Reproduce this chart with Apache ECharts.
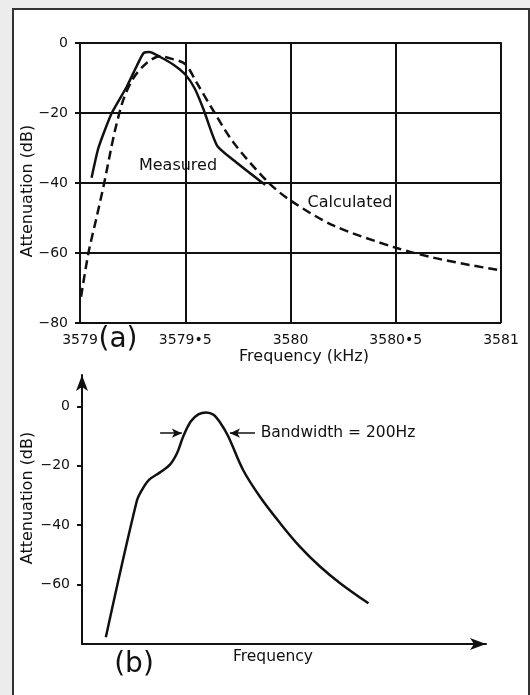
<!DOCTYPE html>
<html><head><meta charset="utf-8">
<script src="https://cdn.jsdelivr.net/npm/echarts@6/dist/echarts.min.js"></script>
<style>
html,body{margin:0;padding:0;background:#ececec;}
#frame{position:absolute;left:12px;top:8px;width:514px;height:700px;border:2px solid #333;background:#fff;}
#c{position:absolute;left:0;top:0;width:530px;height:695px;}
</style>
</head><body><div id="frame"></div><div id="c"></div>
<script>
// (a) measured and calculated response: [frequency kHz, attenuation dB]
const measuredA = [[3579.055,-38.5],[3579.085,-30.5],[3579.111,-26],[3579.151,-20],[3579.222,-12.5],[3579.27,-6.5],[3579.302,-2.9],[3579.33,-2.6],[3579.381,-4.0],[3579.444,-6.2],[3579.5,-9.0],[3579.545,-13],[3579.587,-19],[3579.651,-29.3],[3579.73,-33.5],[3579.857,-39.5],[3579.88,-40.5]];
const calculatedA = [[3579.005,-72.5],[3579.04,-60],[3579.078,-50],[3579.115,-40],[3579.145,-31],[3579.167,-24.8],[3579.206,-16.2],[3579.254,-10],[3579.317,-5.7],[3579.381,-3.8],[3579.44,-4.6],[3579.5,-6.0],[3579.555,-11.4],[3579.635,-19.5],[3579.73,-28.5],[3579.889,-39.5],[3580.0,-45],[3580.206,-52.2],[3580.5,-58.5],[3580.683,-61.4],[3580.85,-63.4],[3581.0,-65]];
const xTicksA = [3579, 3579.5, 3580, 3580.5, 3581];
const yTicksA = [0, -20, -40, -60, -80];
// (b) generic response: [relative frequency, attenuation dB]
const curveB = [[5.8,-77.7],[13.3,-32],[14.6,-28.1],[16.3,-24.7],[19.0,-22.2],[21.4,-19.6],[23.2,-15.5],[24.6,-10.2],[26.5,-5.0],[28.4,-2.6],[30.2,-2.0],[32.0,-2.8],[33.8,-5.8],[35.6,-10.1],[39.2,-21.4],[43.3,-30.4],[48.2,-39.3],[53.0,-47.2],[57.9,-53.9],[62.8,-59.5],[69.7,-66.3]];
const yTicksB = [0, -20, -40, -60];
const bandwidthLevel = -9;
const bandwidthArrows = [[19.0, 24.3], [42.1, 36.0]]; // [from, to] in relative frequency

const FONT = '"DejaVu Sans", sans-serif';
const INK = '#111';
const minus = v => v === 0 ? '0' : '\u2212' + Math.abs(v);

const chart = echarts.init(document.getElementById('c'), null, {renderer: 'canvas'});
chart.setOption({
  backgroundColor: 'transparent',
  animation: false,
  grid: [
    {left: 80, top: 43, width: 421, height: 280},
    {left: 82, top: 375, width: 404, height: 269}
  ],
  xAxis: [
    {gridIndex: 0, type: 'value', min: xTicksA[0], max: xTicksA[xTicksA.length-1], interval: 0.5,
     axisLine: {show: true, lineStyle: {color: INK, width: 2}},
     axisTick: {show: false},
     axisLabel: {color: INK, fontFamily: FONT, fontSize: 14, margin: 10,
       formatter: v => String(v).replace('.', '\u2022')},
     splitLine: {show: true, lineStyle: {color: INK, width: 2}}},
    {gridIndex: 1, type: 'value', min: 0, max: 98.3,
     axisLine: {show: true, onZero: false, lineStyle: {color: INK, width: 2}, symbol: ['none', 'arrow'], symbolSize: [9, 16]},
     axisTick: {show: false}, axisLabel: {show: false}, splitLine: {show: false}}
  ],
  yAxis: [
    {gridIndex: 0, type: 'value', min: yTicksA[yTicksA.length-1], max: yTicksA[0], interval: 20,
     axisLine: {show: true, lineStyle: {color: INK, width: 2}},
     axisTick: {show: true, length: 5, lineStyle: {color: INK, width: 2}},
     axisLabel: {color: INK, fontFamily: FONT, fontSize: 14, margin: 12, formatter: minus},
     splitLine: {show: true, lineStyle: {color: INK, width: 2}}},
    {gridIndex: 1, type: 'value', min: -80, max: 10.6, interval: 20,
     axisLine: {show: true, onZero: false, lineStyle: {color: INK, width: 2}, symbol: ['none', 'arrow'], symbolSize: [9, 16]},
     axisTick: {show: true, length: 5, customValues: yTicksB, lineStyle: {color: INK, width: 2}},
     axisLabel: {color: INK, fontFamily: FONT, fontSize: 14, margin: 12, customValues: yTicksB, formatter: minus},
     splitLine: {show: false}}
  ],
  series: [
    {name: 'Calculated', type: 'line', xAxisIndex: 0, yAxisIndex: 0, data: calculatedA, smooth: 0.3,
     symbol: 'none', lineStyle: {color: INK, width: 2.5, type: [9, 5]}, z: 3},
    {name: 'Measured', type: 'line', xAxisIndex: 0, yAxisIndex: 0, data: measuredA, smooth: 0.2,
     symbol: 'none', lineStyle: {color: INK, width: 2.5}, z: 4},
    {name: 'Response', type: 'line', xAxisIndex: 1, yAxisIndex: 1, data: curveB, smooth: 0.35,
     symbol: 'none', lineStyle: {color: INK, width: 2.5},
     markLine: {silent: true, symbol: ['none', 'arrow'], symbolSize: [7, 10], label: {show: false},
       lineStyle: {color: INK, width: 1.5, type: 'solid'},
       data: bandwidthArrows.map(a => [{coord: [a[0], bandwidthLevel]}, {coord: [a[1], bandwidthLevel]}])}}
  ],
  graphic: [
    {type: 'text', x: 28, y: 191, rotation: Math.PI/2, style: {text: 'Attenuation (dB)', fill: INK, font: '16px ' + FONT, align: 'center', verticalAlign: 'middle'}},
    {type: 'text', x: 28, y: 498, rotation: Math.PI/2, style: {text: 'Attenuation (dB)', fill: INK, font: '16px ' + FONT, align: 'center', verticalAlign: 'middle'}},
    {type: 'text', x: 178, y: 166, style: {text: 'Measured', fill: INK, font: '16px ' + FONT, align: 'center', verticalAlign: 'middle'}},
    {type: 'text', x: 350, y: 203, style: {text: 'Calculated', fill: INK, font: '16px ' + FONT, align: 'center', verticalAlign: 'middle'}},
    {type: 'text', x: 118, y: 340, style: {text: '(a)', fill: INK, font: '28px ' + FONT, align: 'center', verticalAlign: 'middle'}},
    {type: 'text', x: 304, y: 357, style: {text: 'Frequency (kHz)', fill: INK, font: '16px ' + FONT, align: 'center', verticalAlign: 'middle'}},
    {type: 'text', x: 338, y: 433, style: {text: 'Bandwidth = 200Hz', fill: INK, font: '15.5px ' + FONT, align: 'center', verticalAlign: 'middle'}},
    {type: 'text', x: 273, y: 657, style: {text: 'Frequency', fill: INK, font: '15.5px ' + FONT, align: 'center', verticalAlign: 'middle'}},
    {type: 'text', x: 134, y: 665, style: {text: '(b)', fill: INK, font: '28px ' + FONT, align: 'center', verticalAlign: 'middle'}}
  ]
});
</script>
</body></html>
